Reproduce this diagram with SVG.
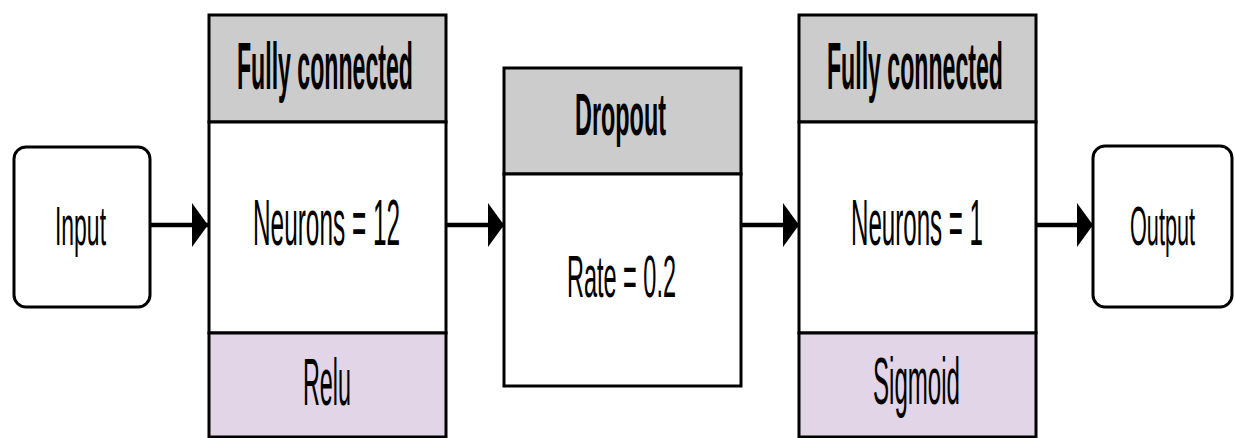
<svg xmlns="http://www.w3.org/2000/svg" width="1235" height="438" viewBox="0 0 1235 438">
<style>
.box{fill:#ffffff;stroke:#000;stroke-width:3}
.hdr{fill:#cccccc;stroke:#000;stroke-width:3}
.act{fill:#e1d5e7;stroke:#000;stroke-width:3}
.t{font-family:"Liberation Sans",Arial,sans-serif;fill:#000;text-anchor:start}
.b{font-weight:bold}
.conn{stroke:#000;stroke-width:4.5;fill:none}
</style>
<defs>
<marker id="ah" viewBox="0 0 16 44" refX="16" refY="22" markerWidth="16" markerHeight="44" markerUnits="userSpaceOnUse" orient="auto">
<path d="M0,0 L16,22 L0,44 Z" fill="#000"/>
</marker>
</defs>
<rect width="1235" height="438" fill="#fff"/>
<g id="connectors">
<line class="conn" x1="150" y1="225" x2="208" y2="225" marker-end="url(#ah)"/>
<line class="conn" x1="446" y1="225" x2="504" y2="225" marker-end="url(#ah)"/>
<line class="conn" x1="741" y1="225" x2="799" y2="225" marker-end="url(#ah)"/>
<line class="conn" x1="1036" y1="225" x2="1093" y2="225" marker-end="url(#ah)"/>
</g>
<g id="input">
<rect class="box" x="14" y="147" width="136" height="160" rx="12"/>
<text class="t" x="55" y="245" font-size="56" textLength="51" lengthAdjust="spacingAndGlyphs">Input</text>
</g>
<g id="fc1">
<rect class="hdr" x="209" y="15" width="237" height="107"/>
<rect class="box" x="209" y="122" width="237" height="211"/>
<rect class="act" x="209" y="333" width="237" height="104"/>
<text class="t b" x="237" y="89" font-size="66" textLength="176" lengthAdjust="spacingAndGlyphs">Fully connected</text>
<text class="t" x="253" y="245" font-size="64" textLength="147" lengthAdjust="spacingAndGlyphs">Neurons = 12</text>
<text class="t" x="303" y="405" font-size="66" textLength="48" lengthAdjust="spacingAndGlyphs">Relu</text>
</g>
<g id="dropout">
<rect class="hdr" x="504" y="68" width="237" height="106"/>
<rect class="box" x="504" y="174" width="237" height="212"/>
<text class="t b" x="575" y="135" font-size="60" textLength="91" lengthAdjust="spacingAndGlyphs">Dropout</text>
<text class="t" x="567" y="297" font-size="60" textLength="109" lengthAdjust="spacingAndGlyphs">Rate = 0.2</text>
</g>
<g id="fc2">
<rect class="hdr" x="799" y="15" width="237" height="107"/>
<rect class="box" x="799" y="122" width="237" height="211"/>
<rect class="act" x="799" y="333" width="237" height="104"/>
<text class="t b" x="827" y="89" font-size="66" textLength="176" lengthAdjust="spacingAndGlyphs">Fully connected</text>
<text class="t" x="851" y="245" font-size="64" textLength="132" lengthAdjust="spacingAndGlyphs">Neurons = 1</text>
<text class="t" x="873" y="404" font-size="66" textLength="87" lengthAdjust="spacingAndGlyphs">Sigmoid</text>
</g>
<g id="output">
<rect class="box" x="1093" y="146" width="139" height="161" rx="12"/>
<text class="t" x="1130" y="245" font-size="56" textLength="65" lengthAdjust="spacingAndGlyphs">Output</text>
</g>
</svg>
